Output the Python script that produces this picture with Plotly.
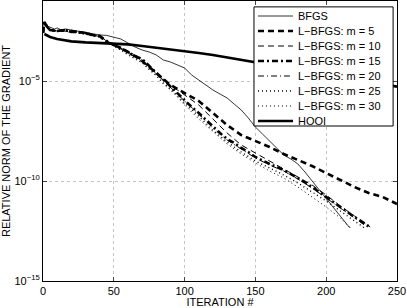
import plotly.graph_objects as go

# ---------------- data (log10 of relative gradient norm) ----------------
bfgs_x = [0, 1, 3, 5, 8, 10, 13, 16, 20, 25, 30, 35, 40, 45, 50, 55, 60, 65, 70, 75, 80, 85, 90, 95,
          100, 105, 110, 115, 120, 125, 130, 135, 140, 145, 150, 155, 160, 165, 170, 175, 180, 185,
          190, 195, 200, 205, 210, 215, 217]
bfgs_log = [-2.6, -2.05, -2.25, -2.3, -2.4, -2.35, -2.45, -2.4, -2.45, -2.5, -2.55, -2.6, -2.7, -2.72,
            -2.8, -2.9, -3.1, -3.3, -3.45, -3.55, -3.7, -3.95, -4.05, -4.2, -4.35, -4.7, -4.95, -5.2,
            -5.45, -5.65, -5.85, -6.15, -6.45, -6.85, -7.3, -7.65, -8.0, -8.4, -8.7, -8.9, -9.15,
            -9.55, -10.0, -10.45, -10.9, -11.35, -11.8, -12.2, -12.35]

m5_x = [0, 1, 3, 5, 10, 15, 20, 25, 30, 35, 40, 45, 50, 55, 60, 65, 70, 75, 80, 85, 90, 95, 100,
        110, 120, 130, 140, 150, 160, 170, 180, 190, 200, 210, 220, 230, 240, 250]
m5_log = [-2.6, -2.05, -2.3, -2.45, -2.5, -2.45, -2.55, -2.55, -2.6, -2.7, -2.75, -3.05, -3.2, -3.35,
          -3.55, -3.75, -4.0, -4.3, -4.6, -4.9, -5.2, -5.4, -5.6, -6.0, -6.6, -7.2, -7.7, -8.0, -8.3,
          -8.65, -8.95, -9.25, -9.6, -9.95, -10.3, -10.6, -10.8, -11.15]

m10_x = [0, 1, 3, 5, 10, 15, 20, 25, 30, 35, 40, 45, 50, 55, 60, 65, 70, 75, 80, 85, 90, 95, 100,
         110, 120, 130, 140, 150, 160, 170, 180, 190, 200, 210, 220, 231]
m10_log = [-2.6, -2.1, -2.3, -2.45, -2.5, -2.5, -2.55, -2.55, -2.6, -2.7, -2.75, -3.0, -3.2, -3.35,
           -3.55, -3.75, -4.0, -4.3, -4.6, -4.95, -5.25, -5.45, -5.7, -6.2, -6.9, -7.6, -8.2, -8.6,
           -9.0, -9.4, -9.8, -10.2, -10.7, -11.25, -11.75, -12.3]

m15_x = [0, 1, 3, 5, 10, 15, 20, 25, 30, 35, 40, 45, 50, 55, 60, 65, 70, 75, 80, 85, 90, 95, 100,
         105, 110, 115, 120, 125, 130, 135, 140, 145, 150, 160, 170, 180, 190, 200, 210, 220, 231]
m15_log = [-2.6, -2.05, -2.3, -2.45, -2.5, -2.45, -2.5, -2.55, -2.6, -2.7, -2.75, -3.0, -3.2, -3.35,
           -3.55, -3.75, -3.9, -4.25, -4.55, -4.95, -5.3, -5.6, -5.95, -6.3, -6.6, -6.95, -7.3,
           -7.6, -7.9, -8.1, -8.35, -8.55, -8.8, -9.15, -9.45, -9.85, -10.3, -10.8, -11.3, -11.8,
           -12.3]

m20_x = [0, 1, 3, 5, 10, 15, 20, 25, 30, 35, 40, 45, 50, 55, 60, 65, 70, 75, 80, 85, 90, 95, 100,
         110, 120, 130, 140, 150, 160, 170, 180, 190, 200, 210, 220, 229]
m20_log = [-2.6, -2.1, -2.3, -2.45, -2.5, -2.5, -2.5, -2.55, -2.6, -2.7, -2.78, -3.0, -3.2, -3.4,
           -3.6, -3.8, -3.95, -4.3, -4.6, -5.0, -5.3, -5.65, -6.0, -6.65, -7.35, -7.95, -8.4,
           -8.85, -9.2, -9.5, -9.9, -10.35, -10.85, -11.35, -11.85, -12.3]

m25_x = [0, 1, 3, 5, 10, 15, 20, 25, 30, 35, 40, 45, 50, 55, 60, 65, 70, 75, 80, 85, 90, 95, 100,
         110, 120, 130, 140, 150, 160, 170, 180, 190, 200, 210, 220, 228]
m25_log = [-2.6, -2.1, -2.3, -2.45, -2.5, -2.5, -2.55, -2.6, -2.65, -2.72, -2.8, -3.05, -3.25, -3.45,
           -3.65, -3.85, -4.05, -4.4, -4.7, -5.1, -5.4, -5.75, -6.1, -6.8, -7.45, -8.05, -8.55,
           -9.0, -9.35, -9.7, -10.1, -10.55, -11.0, -11.5, -12.0, -12.4]

m30_x = [0, 1, 3, 5, 10, 15, 20, 25, 30, 35, 40, 45, 50, 55, 60, 65, 70, 75, 80, 85, 90, 95, 100,
         110, 120, 130, 140, 150, 160, 170, 180, 190, 200, 210, 217]
m30_log = [-2.6, -2.1, -2.3, -2.45, -2.5, -2.5, -2.55, -2.6, -2.65, -2.75, -2.8, -3.05, -3.25, -3.45,
           -3.7, -3.9, -4.1, -4.45, -4.75, -5.15, -5.45, -5.8, -6.2, -6.9, -7.55, -8.15, -8.65,
           -9.1, -9.5, -9.85, -10.3, -10.8, -11.3, -11.85, -12.35]

hooi_x = [1, 5, 10, 15, 20, 30, 40, 50, 60, 70, 80, 90, 100, 110, 120, 130, 140, 150, 175, 200, 225, 250]
hooi_log = [-2.65, -2.8, -2.9, -2.97, -3.02, -3.07, -3.1, -3.12, -3.17, -3.25, -3.33, -3.42, -3.5,
            -3.6, -3.7, -3.82, -3.95, -4.08, -4.38, -4.68, -4.98, -5.28]

x_ticks = [0, 50, 100, 150, 200, 250]
y_tickvals = [1e-15, 1e-10, 1e-5]
y_ticktext = ["10<sup>−15</sup>", "10<sup>−10</sup>", "10<sup>−5</sup>"]

# ---------------- styles ----------------
series = [
    ("BFGS", bfgs_x, bfgs_log, 0.8, "solid"),
    ("L−BFGS: m = 5", m5_x, m5_log, 2.6, "6px,4px"),
    ("L−BFGS: m = 10", m10_x, m10_log, 1.0, "6px,4px"),
    ("L−BFGS: m = 15", m15_x, m15_log, 2.6, "6px,3px,2px,3px"),
    ("L−BFGS: m = 20", m20_x, m20_log, 1.0, "6px,3px,1px,3px"),
    ("L−BFGS: m = 25", m25_x, m25_log, 1.4, "1px,3px"),
    ("L−BFGS: m = 30", m30_x, m30_log, 1.0, "1px,3px"),
    ("HOOI", hooi_x, hooi_log, 2.6, "solid"),
]

FONT = "Liberation Sans, Arial, Helvetica, sans-serif"

fig = go.Figure()
for name, xs, ls, w, dash in series:
    fig.add_trace(go.Scatter(
        x=xs, y=[10 ** v for v in ls], mode="lines", name=name,
        line=dict(color="black", width=w, dash=dash), showlegend=False))

# ---------------- manual legend (MATLAB style, compact) ----------------
L_x0, L_x1 = 0.596, 0.989
L_y1 = 0.979
row_h = 15 / 280.0
first = 1 - (16 - 1) / 280.0
L_y0 = first - 7 * row_h - 5 / 280.0
shapes = [dict(type="rect", xref="paper", yref="paper", x0=L_x0, x1=L_x1, y0=L_y0, y1=L_y1,
               line=dict(color="black", width=1), fillcolor="white", layer="above")]
annotations = []
for i, (name, xs, ls, w, dash) in enumerate(series):
    yc = first - i * row_h
    shapes.append(dict(type="line", xref="paper", yref="paper",
                       x0=L_x0 + 4 / 354.0, x1=L_x0 + 39 / 354.0, y0=yc, y1=yc,
                       line=dict(color="black", width=w, dash=dash), layer="above"))
    annotations.append(dict(xref="paper", yref="paper", x=L_x0 + 42 / 354.0, y=yc,
                            text=name, showarrow=False, xanchor="left", yanchor="middle",
                            font=dict(family=FONT, size=11, color="black")))

fig.update_layout(
    width=407, height=308, autosize=False,
    margin=dict(l=43, r=10, t=1, b=27),
    paper_bgcolor="white", plot_bgcolor="white",
    font=dict(family=FONT, size=11, color="black"),
    shapes=shapes, annotations=annotations,
    xaxis=dict(range=[0, 250], tickvals=x_ticks, ticks="inside", ticklen=4,
               showline=True, linecolor="black", linewidth=1, mirror="ticks",
               showgrid=True, gridcolor="#c4c4c4", griddash="dot", gridwidth=1,
               zeroline=False, title=dict(text="ITERATION #", standoff=1,
                                          font=dict(family=FONT, size=11)),
               tickfont=dict(family=FONT, size=11)),
    yaxis=dict(type="log", range=[-15, -1], tickvals=y_tickvals, ticktext=y_ticktext,
               ticks="inside", ticklen=4,
               showline=True, linecolor="black", linewidth=1, mirror="ticks",
               showgrid=True, gridcolor="#c4c4c4", griddash="dot", gridwidth=1,
               zeroline=False, title=dict(text="RELATIVE NORM OF THE GRADIENT", standoff=4,
                                          font=dict(family=FONT, size=11)),
               tickfont=dict(family=FONT, size=11)),
)

fig.write_html("out.html", config={"displayModeBar": False},
               post_script="document.body.style.margin='0';")
